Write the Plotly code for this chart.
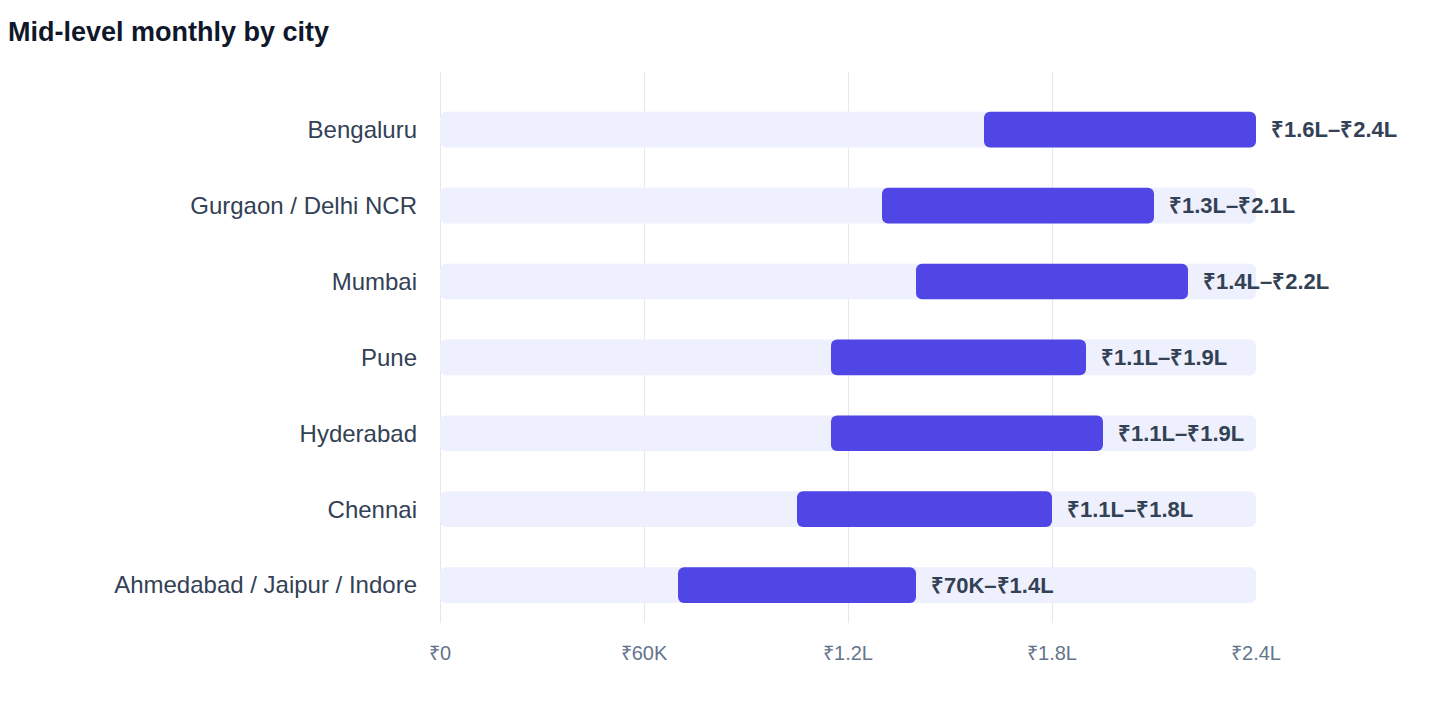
import plotly.graph_objects as go

# data (monthly, in rupees)
cities = ["Bengaluru", "Gurgaon / Delhi NCR", "Mumbai", "Pune",
          "Hyderabad", "Chennai", "Ahmedabad / Jaipur / Indore"]
low = [160000, 130000, 140000, 115000, 115000, 105000, 70000]
high = [240000, 210000, 220000, 190000, 195000, 180000, 140000]
range_labels = ["₹1.6L–₹2.4L", "₹1.3L–₹2.1L", "₹1.4L–₹2.2L", "₹1.1L–₹1.9L",
                "₹1.1L–₹1.9L", "₹1.1L–₹1.8L", "₹70K–₹1.4L"]
tick_vals = [0, 60000, 120000, 180000, 240000]
tick_text = ["₹0", "₹60K", "₹1.2L", "₹1.8L", "₹2.4L"]
x_max = 240000

FONT = "Liberation Sans, Arial, Helvetica, sans-serif"

fig = go.Figure()

# light background track
fig.add_trace(go.Bar(
    y=cities, x=[x_max] * len(cities), base=0, orientation="h",
    marker=dict(color="#EEF0FD", line_width=0), width=0.47,
    hoverinfo="skip", showlegend=False,
))

# salary range bars
fig.add_trace(go.Bar(
    y=cities, x=[h - l for l, h in zip(low, high)], base=low, orientation="h",
    marker=dict(color="#4F46E5", line_width=0), width=0.47,
    customdata=range_labels, hovertemplate="%{y}: %{customdata}<extra></extra>",
    showlegend=False,
))

for city, h, lab in zip(cities, high, range_labels):
    fig.add_annotation(
        x=h, y=city, text="<b>" + lab + "</b>", showarrow=False,
        xanchor="left", xshift=13,
        font=dict(family=FONT, size=22, color="#334155"),
    )

# page body has an 8px margin, so left/top margins are trimmed by 8px
fig.update_layout(
    template="plotly_white",
    width=1440, height=712,
    margin=dict(l=432, r=192, t=64, b=97),
    barmode="overlay",
    barcornerradius=6,
    plot_bgcolor="white", paper_bgcolor="white",
    font=dict(family=FONT),
    title=dict(
        text="<b>Mid-level monthly by city</b>",
        x=0.0, xref="container", xanchor="left",
        y=1 - 24 / 712, yref="container", yanchor="middle",
        font=dict(family=FONT, size=27, color="#0F172A"),
    ),
    xaxis=dict(
        range=[0, x_max], tickvals=tick_vals, ticktext=tick_text,
        showgrid=True, gridcolor="#E2E8F0", gridwidth=1,
        zeroline=True, zerolinecolor="#E2E8F0", zerolinewidth=1,
        showline=False, ticks="", ticklabelstandoff=16,
        tickfont=dict(family=FONT, size=20, color="#64748B"),
        fixedrange=True,
    ),
    yaxis=dict(
        categoryorder="array", categoryarray=cities,
        range=[6.5, -0.76],
        showgrid=False, zeroline=False, showline=False, ticks="",
        ticklabelstandoff=22,
        tickfont=dict(family=FONT, size=24, color="#334155"),
        fixedrange=True,
    ),
)

fig.write_html("out.html")
